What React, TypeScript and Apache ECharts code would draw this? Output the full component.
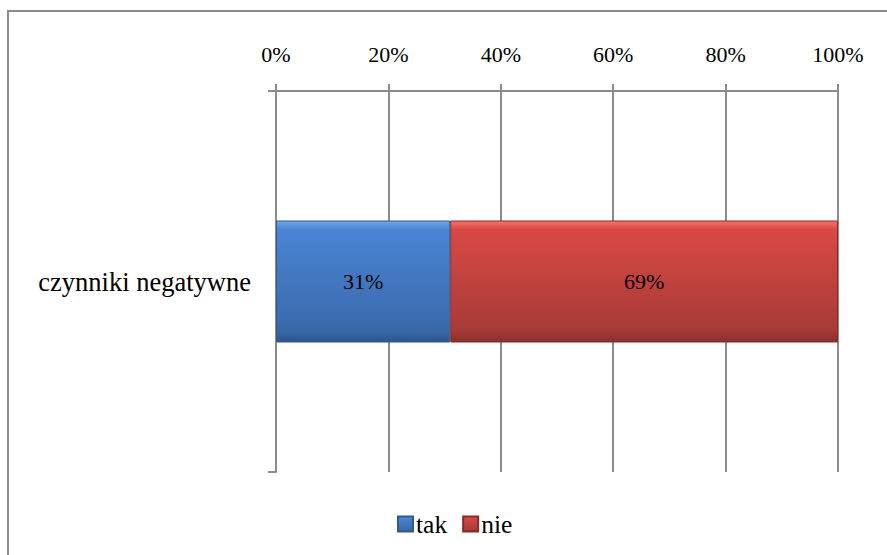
import React, { useEffect, useRef } from "react";
import * as echarts from "echarts";

const categories = ["czynniki negatywne"];
const seriesNames = ["tak", "nie"];
const takValues = [31];
const nieValues = [69];
const tickValues = [0, 20, 40, 60, 80, 100];

const FONT = "Liberation Serif";

export default function App() {
  const ref = useRef<HTMLDivElement>(null);
  useEffect(() => {
    if (!ref.current) return;
    const chart = echarts.init(ref.current, null, { renderer: "svg" });
    const blue = new echarts.graphic.LinearGradient(0, 0, 0, 1, [
      { offset: 0, color: "#74A6E6" },
      { offset: 0.07, color: "#4A85D4" },
      { offset: 0.9, color: "#3A69AA" },
      { offset: 1, color: "#2E558C" },
    ]);
    const red = new echarts.graphic.LinearGradient(0, 0, 0, 1, [
      { offset: 0, color: "#F27470" },
      { offset: 0.07, color: "#DA4844" },
      { offset: 0.9, color: "#A83B37" },
      { offset: 1, color: "#86302D" },
    ]);
    chart.setOption({
      animation: false,
      backgroundColor: "#ffffff",
      graphic: [
        {
          type: "rect",
          shape: { x: 8, y: 11, width: 900, height: 600 },
          style: { fill: "none", stroke: "#8c8c8c", lineWidth: 2 },
          silent: true,
        },
      ],
      grid: { left: 276, right: 49, top: 91, bottom: 83 },
      legend: {
        data: seriesNames,
        left: 397,
        top: 511,
        padding: 0,
        itemWidth: 15,
        itemHeight: 15,
        itemGap: 15,
        icon: "rect",
        textStyle: { fontFamily: FONT, fontSize: 25.5, color: "#000", padding: [0, 0, 0, -2] },
      },
      xAxis: {
        type: "value",
        position: "top",
        min: tickValues[0],
        max: tickValues[tickValues.length - 1],
        interval: 20,
        axisLine: { show: true, lineStyle: { color: "#8c8c8c", width: 2 } },
        axisTick: { show: true, length: 7, lineStyle: { color: "#8c8c8c", width: 2 } },
        splitLine: { show: true, lineStyle: { color: "#8c8c8c", width: 2 } },
        axisLabel: {
          formatter: "{value}%",
          margin: 26,
          fontFamily: FONT,
          fontSize: 22,
          color: "#000",
        },
      },
      yAxis: {
        type: "category",
        data: categories,
        axisLine: { show: true, lineStyle: { color: "#8c8c8c", width: 2 } },
        axisTick: { show: true, length: 8, lineStyle: { color: "#8c8c8c", width: 2 } },
        axisLabel: { fontFamily: FONT, fontSize: 26.5, color: "#000", margin: 25 },
      },
      series: [
        {
          name: seriesNames[0],
          type: "bar",
          stack: "total",
          data: takValues,
          barWidth: 122,
          itemStyle: { color: blue, borderColor: "#2D5A93", borderWidth: 1 },
          label: {
            show: true,
            position: "inside",
            formatter: "{c}%",
            fontFamily: FONT,
            fontSize: 22,
            color: "#000",
          },
        },
        {
          name: seriesNames[1],
          type: "bar",
          stack: "total",
          data: nieValues,
          barWidth: 122,
          itemStyle: { color: red, borderColor: "#8A2B28", borderWidth: 1 },
          label: {
            show: true,
            position: "inside",
            formatter: "{c}%",
            fontFamily: FONT,
            fontSize: 22,
            color: "#000",
          },
        },
      ],
    });
    return () => chart.dispose();
  }, []);
  return (
    <div
      ref={ref}
      style={{ position: "absolute", left: 0, top: 0, width: 887, height: 555 }}
    />
  );
}
